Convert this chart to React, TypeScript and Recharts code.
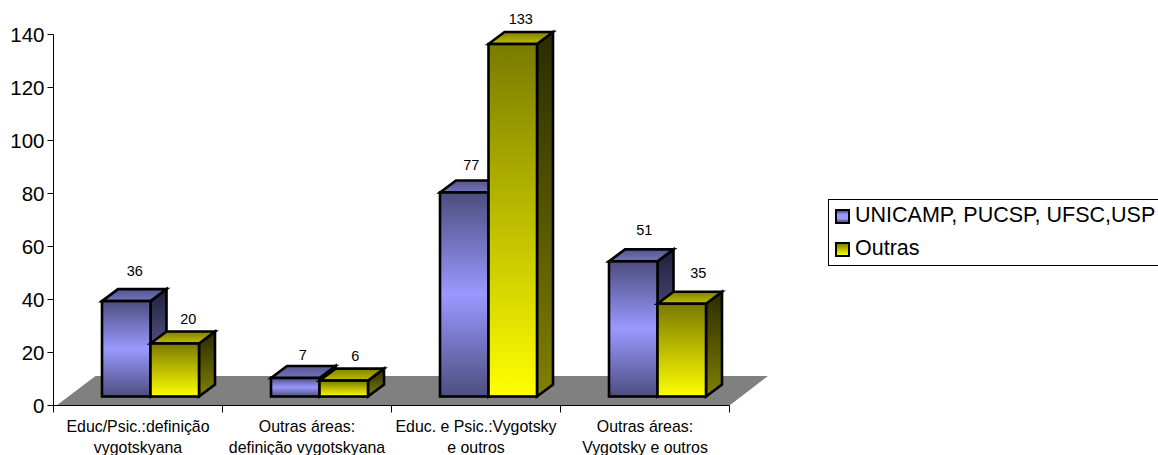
import { Bar, BarChart, LabelList, Legend, XAxis, YAxis } from "recharts";

const categories = [
  "Educ/Psic.:definição\nvygotskyana",
  "Outras áreas:\ndefinição vygotskyana",
  "Educ. e Psic.:Vygotsky\ne outros",
  "Outras áreas:\nVygotsky e outros",
];
const unicampValues = [36, 7, 77, 51];
const outrasValues = [20, 6, 133, 35];
const yTicks = [0, 20, 40, 60, 80, 100, 120, 140];

// hand placement of the value labels, relative to each bar's front-top edge
const unicampLabelDx = [8.5, 7.5, 7, 11];
const unicampLabelRise = [30, 23, 27, 31];
const outrasLabelDx = [13.5, 11.5, 8, 16.5];
const outrasLabelRise = [25, 25, 25, 31];

const data = categories.map((name, i) => ({
  name,
  unicamp: unicampValues[i],
  outras: outrasValues[i],
}));

const FONT = "'Liberation Sans', Arial, sans-serif";

// 3D look: bars sit on a floor behind the axis plane
const LIFT = 9;
const SHIFT = 12.5;
const DEPTH_X = 16;
const DEPTH_Y = 12;
const BAND = 169;

const PLOT_LEFT = 53.5;
const PLOT_RIGHT = 729.5;
const PLOT_BOTTOM = 405.5;

function Box({ x, y, width, height, palette }: any) {
  const left = x + SHIFT;
  const right = left + width;
  const top = y - LIFT;
  const bottom = top + height;
  return (
    <g stroke="#000" strokeWidth={2.6} strokeLinejoin="miter">
      <polygon
        points={`${right},${top} ${right + DEPTH_X},${top - DEPTH_Y} ${right + DEPTH_X},${bottom - DEPTH_Y} ${right},${bottom}`}
        fill={`url(#${palette}Side)`}
      />
      <polygon
        points={`${left},${top} ${left + DEPTH_X},${top - DEPTH_Y} ${right + DEPTH_X},${top - DEPTH_Y} ${right},${top}`}
        fill={`url(#${palette}Top)`}
      />
      <rect x={left} y={top} width={width} height={height} fill={`url(#${palette}Front)`} />
    </g>
  );
}

function CategoryTick({ x, index, payload }: any) {
  const lines = String(payload.value).split("\n");
  return (
    <g>
      {index === 0 && <line x1={x - BAND / 2} x2={x - BAND / 2} y1={PLOT_BOTTOM} y2={PLOT_BOTTOM + 7} stroke="#000" />}
      <line x1={x + BAND / 2} x2={x + BAND / 2} y1={PLOT_BOTTOM} y2={PLOT_BOTTOM + 7} stroke="#000" />
      {lines.map((line: string, i: number) => (
        <text
          key={i}
          x={x}
          y={PLOT_BOTTOM + 20.5 + i * 21}
          textAnchor="middle"
          dominantBaseline="central"
          fontFamily={FONT}
          fontSize={15.9}
          fill="#000"
        >
          {line}
        </text>
      ))}
    </g>
  );
}

function valueLabel(dx: number[], rise: number[]) {
  return ({ x, y, width, index, value }: any) => (
    <text
      x={x + SHIFT + width / 2 + dx[index]}
      y={y - LIFT - rise[index]}
      textAnchor="middle"
      dominantBaseline="central"
      fontFamily={FONT}
      fontSize={14.5}
      fill="#000"
    >
      {value}
    </text>
  );
}

const swatches = [
  "linear-gradient(#4d4d80, #9999ff 30%, #9999ff 70%, #4d4d80)",
  "linear-gradient(#808000, #ffff00)",
];

function LegendBox({ payload }: any) {
  return (
    <div
      style={{
        boxSizing: "border-box",
        width: 340,
        height: 67.5,
        border: "1px solid #000",
        background: "#fff",
        position: "relative",
        fontFamily: FONT,
        fontSize: 21.5,
        color: "#000",
      }}
    >
      {(payload || []).map((item: any, i: number) => (
        <div key={item.value}>
          <div
            style={{
              position: "absolute",
              boxSizing: "border-box",
              left: 6,
              top: 9 + i * 33,
              width: 15,
              height: 15,
              border: "2.5px solid #000",
              background: swatches[i],
            }}
          />
          <div
            style={{
              position: "absolute",
              left: 26,
              top: 4.5 + i * 33,
              lineHeight: "23px",
              whiteSpace: "nowrap",
            }}
          >
            {item.value}
          </div>
        </div>
      ))}
    </div>
  );
}

export default function App() {
  return (
    <div style={{ position: "absolute", left: 0, top: 0, width: 1158, height: 455, overflow: "hidden", background: "#fff" }}>
      <BarChart
        width={1158}
        height={455}
        data={data}
        barSize={48.5}
        barGap={0}
        margin={{ top: 34.5, right: 1158 - PLOT_RIGHT, bottom: 0, left: 0 }}
      >
        <defs>
          <linearGradient id="blueFront" x1="0" y1="0" x2="0" y2="1">
            <stop offset="0" stopColor="#4d4d80" />
            <stop offset="0.5" stopColor="#9999ff" />
            <stop offset="1" stopColor="#4d4d80" />
          </linearGradient>
          <linearGradient id="blueTop" x1="0" y1="0" x2="0" y2="1">
            <stop offset="0" stopColor="#55558f" />
            <stop offset="1" stopColor="#7373bf" />
          </linearGradient>
          <linearGradient id="blueSide" x1="0" y1="0" x2="0" y2="1">
            <stop offset="0" stopColor="#20203a" />
            <stop offset="0.5" stopColor="#4d4d80" />
            <stop offset="1" stopColor="#20203a" />
          </linearGradient>
          <linearGradient id="oliveFront" x1="0" y1="0" x2="0" y2="1">
            <stop offset="0" stopColor="#7a7a00" />
            <stop offset="1" stopColor="#ffff00" />
          </linearGradient>
          <linearGradient id="oliveTop" x1="0" y1="0" x2="0" y2="1">
            <stop offset="0" stopColor="#808000" />
            <stop offset="1" stopColor="#bfbf00" />
          </linearGradient>
          <linearGradient id="oliveSide" x1="0" y1="0" x2="0" y2="1">
            <stop offset="0" stopColor="#2b2b00" />
            <stop offset="1" stopColor="#808000" />
          </linearGradient>
        </defs>
        <polygon
          points={`${PLOT_LEFT + 3},${PLOT_BOTTOM} ${PLOT_LEFT + 42},376 768,376 ${PLOT_RIGHT},${PLOT_BOTTOM}`}
          fill="#808080"
        />
        <XAxis
          dataKey="name"
          interval={0}
          height={49.5}
          stroke="#000"
          tickLine={false}
          tick={<CategoryTick />}
        />
        <YAxis
          width={PLOT_LEFT}
          domain={[0, 140]}
          ticks={yTicks}
          interval={0}
          stroke="#000"
          tickSize={6}
          tickMargin={3}
          tick={{ fontFamily: FONT, fontSize: 20.5, fill: "#000" }}
        />
        <Legend
          layout="vertical"
          align="center"
          verticalAlign="middle"
          itemSorter={null}
          wrapperStyle={{ left: 828, top: 198.5, width: 340 }}
          content={<LegendBox />}
        />
        <Bar
          dataKey="unicamp"
          name="UNICAMP, PUCSP, UFSC,USP"
          isAnimationActive={false}
          shape={<Box palette="blue" />}
        >
          <LabelList dataKey="unicamp" content={valueLabel(unicampLabelDx, unicampLabelRise)} />
        </Bar>
        <Bar
          dataKey="outras"
          name="Outras"
          isAnimationActive={false}
          shape={<Box palette="olive" />}
        >
          <LabelList dataKey="outras" content={valueLabel(outrasLabelDx, outrasLabelRise)} />
        </Bar>
      </BarChart>
    </div>
  );
}
